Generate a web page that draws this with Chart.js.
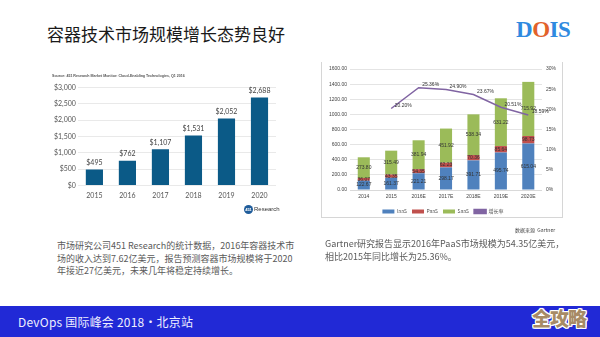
<!DOCTYPE html>
<html>
<head>
<meta charset="utf-8">
<script src="https://cdn.jsdelivr.net/npm/chart.js@4/dist/chart.umd.min.js"></script>
<style>
body { margin:0; width:600px; height:337px; overflow:hidden; background:#fff; position:relative; font-family:"Noto Sans CJK SC", sans-serif; }
.title { position:absolute; left:47px; top:21px; font-size:17px; color:#1a1a1a; white-space:nowrap; }
.logo { position:absolute; left:516px; top:17px; font-family:"Liberation Serif", serif; font-weight:bold; font-size:23px; color:#2f8ae0; letter-spacing:-0.5px; }
.logo span { color:#e2622b; }
#box1 { position:absolute; left:40px; top:66px; width:250px; height:140px; }
#frame2 { position:absolute; left:321px; top:62px; width:240px; height:155px; border:1px solid #d6d6d6; border-top:none; }
#box2 { position:absolute; left:322px; top:62px; width:240px; height:162px; }
.r451 { position:absolute; left:244px; top:205px; font-family:"Liberation Sans", sans-serif; font-size:6px; color:#333; }
.r451 b { display:inline-block; width:9px; height:9px; border-radius:50%; background:#1f5c9a; color:#fff; font-size:4px; text-align:center; line-height:9px; vertical-align:middle; margin-right:1px; }
.src2 { position:absolute; left:515px; top:226px; font-size:5px; color:#444; }
.para { position:absolute; font-size:9px; line-height:12.5px; color:#5a5a5a; white-space:nowrap; }
.foot { position:absolute; left:0; top:306px; width:600px; height:31px; background:#2129d6; }
.foot .t { position:absolute; left:18px; top:7px; color:#eef; font-size:12px; letter-spacing:0.2px; white-space:nowrap; }
.foot .q { position:absolute; left:532px; top:-2px; font-size:19px; font-weight:900; color:#a78b66; letter-spacing:-1px;
  text-shadow:1px 0 #fff,-1px 0 #fff,0 1px #fff,0 -1px #fff,1px 1px #fff,-1px -1px #fff,1px -1px #fff,-1px 1px #fff; }
</style>
</head>
<body>
<div class="title">容器技术市场规模增长态势良好</div>
<div class="logo">D<span>O</span>IS</div>

<div id="box1"><canvas id="marketChart" width="250" height="140"></canvas></div>
<div class="r451"><b>451</b>Research</div>

<div id="frame2"></div>
<div id="box2"><canvas id="paasChart" width="240" height="162"></canvas></div>
<div class="src2">数据来源&nbsp;&nbsp;Gartner</div>

<div class="para" style="left:57px; top:240px;">市场研究公司451 Research的统计数据，2016年容器技术市<br>场的收入达到7.62亿美元，报告预测容器市场规模将于2020<br>年接近27亿美元，未来几年将稳定持续增长。</div>
<div class="para" style="left:325px; top:238px;">Gartner研究报告显示2016年PaaS市场规模为54.35亿美元，<br>相比2015年同比增长为25.36%。</div>

<div class="foot"><div class="t">DevOps 国际峰会 2018·北京站</div><div class="q">全攻略</div></div>

<script>
// 左图：451 Research 容器市场收入（百万美元）
const years = ['2015', '2016', '2017', '2018', '2019', '2020'];
const revenue = [495, 762, 1107, 1531, 2052, 2688];

// 右图：Gartner 云服务市场规模
const paasYears = ['2014', '2015', '2016E', '2017E', '2018E', '2019E', '2020E'];
const iaas = [122.67, 161.37, 221.21, 298.17, 391.71, 495.74, 615.04];
const paas = [36.07, 43.35, 54.35, 62.23, 70.36, 85.64, 98.73];
const saas = [273.80, 315.49, 381.94, 451.92, 538.34, 631.22, 715.92];
const growth = [null, 20.20, 25.36, 24.90, 23.67, 20.51, 18.59];

// 数值标签插件
function makeLabels(cfg) {
    return {
        id: 'valueLabels',
        afterDatasetsDraw(chart) {
            const ctx = chart.ctx;
            ctx.save();
            ctx.font = cfg.font;
            ctx.fillStyle = cfg.color;
            ctx.textAlign = 'center';
            ctx.textBaseline = 'middle';
            chart.data.datasets.forEach((ds, i) => {
                const meta = chart.getDatasetMeta(i);
                meta.data.forEach((el, j) => {
                    const v = ds.data[j];
                    if (v == null) return;
                    let x = el.x, y;
                    if (meta.type === 'line') {
                        x += 12; y = el.y - 3;
                    } else if (cfg.inside) {
                        y = (el.y + el.base) / 2;
                    } else {
                        y = el.y - 7;
                    }
                    ctx.fillText(cfg.format(v, meta.type), x, y);
                });
            });
            ctx.restore();
        }
    };
}

const money = v => '$' + v.toLocaleString('en-US');

new Chart(document.getElementById('marketChart').getContext('2d'), {
    type: 'bar',
    data: {
        labels: years,
        datasets: [{
            data: revenue,
            backgroundColor: '#0b5a87',
            barPercentage: 0.52,
            categoryPercentage: 1
        }]
    },
    options: {
        responsive: false,
        animation: false,
        layout: { padding: { left: 12, right: 14, top: 2, bottom: 0 } },
        plugins: {
            legend: { display: false },
            tooltip: { enabled: false },
            title: {
                display: true,
                text: 'Source: 451 Research Market Monitor: Cloud-Enabling Technologies, Q1 2016',
                align: 'start',
                color: '#555',
                font: { size: 3.6, family: 'Liberation Sans' },
                padding: { top: 6, bottom: 9 }
            }
        },
        scales: {
            y: {
                min: 0, max: 3000,
                ticks: { stepSize: 500, callback: v => money(v), color: '#555', font: { size: 7, family: 'Lato' }, padding: 2 },
                grid: { color: '#e9e9e9', drawTicks: false },
                border: { display: false }
            },
            x: {
                ticks: { color: '#555', font: { size: 7, family: 'Lato' }, padding: 6 },
                grid: { display: false, drawTicks: false },
                border: { display: false }
            }
        }
    },
    plugins: [makeLabels({ font: '7px Lato', color: '#444', format: v => money(v) })]
});

new Chart(document.getElementById('paasChart').getContext('2d'), {
    type: 'bar',
    data: {
        labels: paasYears,
        datasets: [
            { label: 'IaaS', data: iaas, backgroundColor: '#4f81bd', order: 1, barPercentage: 0.44, categoryPercentage: 1 },
            { label: 'PaaS', data: paas, backgroundColor: '#c0504d', order: 1, barPercentage: 0.44, categoryPercentage: 1 },
            { label: 'SaaS', data: saas, backgroundColor: '#9bbb59', order: 1, barPercentage: 0.44, categoryPercentage: 1 },
            { label: '增长率', type: 'line', data: growth, yAxisID: 'y1', borderColor: '#8064a2', backgroundColor: '#8064a2',
              borderWidth: 1.5, pointRadius: 0, tension: 0, order: 0 }
        ]
    },
    options: {
        responsive: false,
        animation: false,
        layout: { padding: { left: 4, right: 2, top: 6, bottom: 0 } },
        plugins: {
            tooltip: { enabled: false },
            legend: {
                position: 'bottom',
                labels: { boxWidth: 12, boxHeight: 4, padding: 5, color: '#555', font: { size: 5, family: 'Noto Sans CJK SC' },
                          sort: (a, b) => a.datasetIndex - b.datasetIndex }
            }
        },
        scales: {
            x: {
                stacked: true,
                ticks: { color: '#444', font: { size: 5, family: 'Liberation Sans' }, padding: 4 },
                grid: { display: false, drawTicks: false },
                border: { color: '#d9d9d9' }
            },
            y: {
                stacked: true,
                min: 0, max: 1600,
                ticks: { stepSize: 200, callback: v => v.toFixed(2), color: '#444', font: { size: 5, family: 'Liberation Sans' }, padding: 3 },
                grid: { color: '#e4e4e4', drawTicks: false },
                border: { display: false }
            },
            y1: {
                position: 'right',
                min: 0, max: 30,
                ticks: { stepSize: 5, callback: v => v + '%', color: '#444', font: { size: 5, family: 'Liberation Sans' }, padding: 4 },
                grid: { display: false, drawTicks: false },
                border: { display: false }
            }
        }
    },
    plugins: [makeLabels({ font: '5px "Liberation Sans"', color: '#333', inside: true,
        format: (v, type) => type === 'line' ? v.toFixed(2) + '%' : v.toFixed(2) })]
});
</script>
</body>
</html>
